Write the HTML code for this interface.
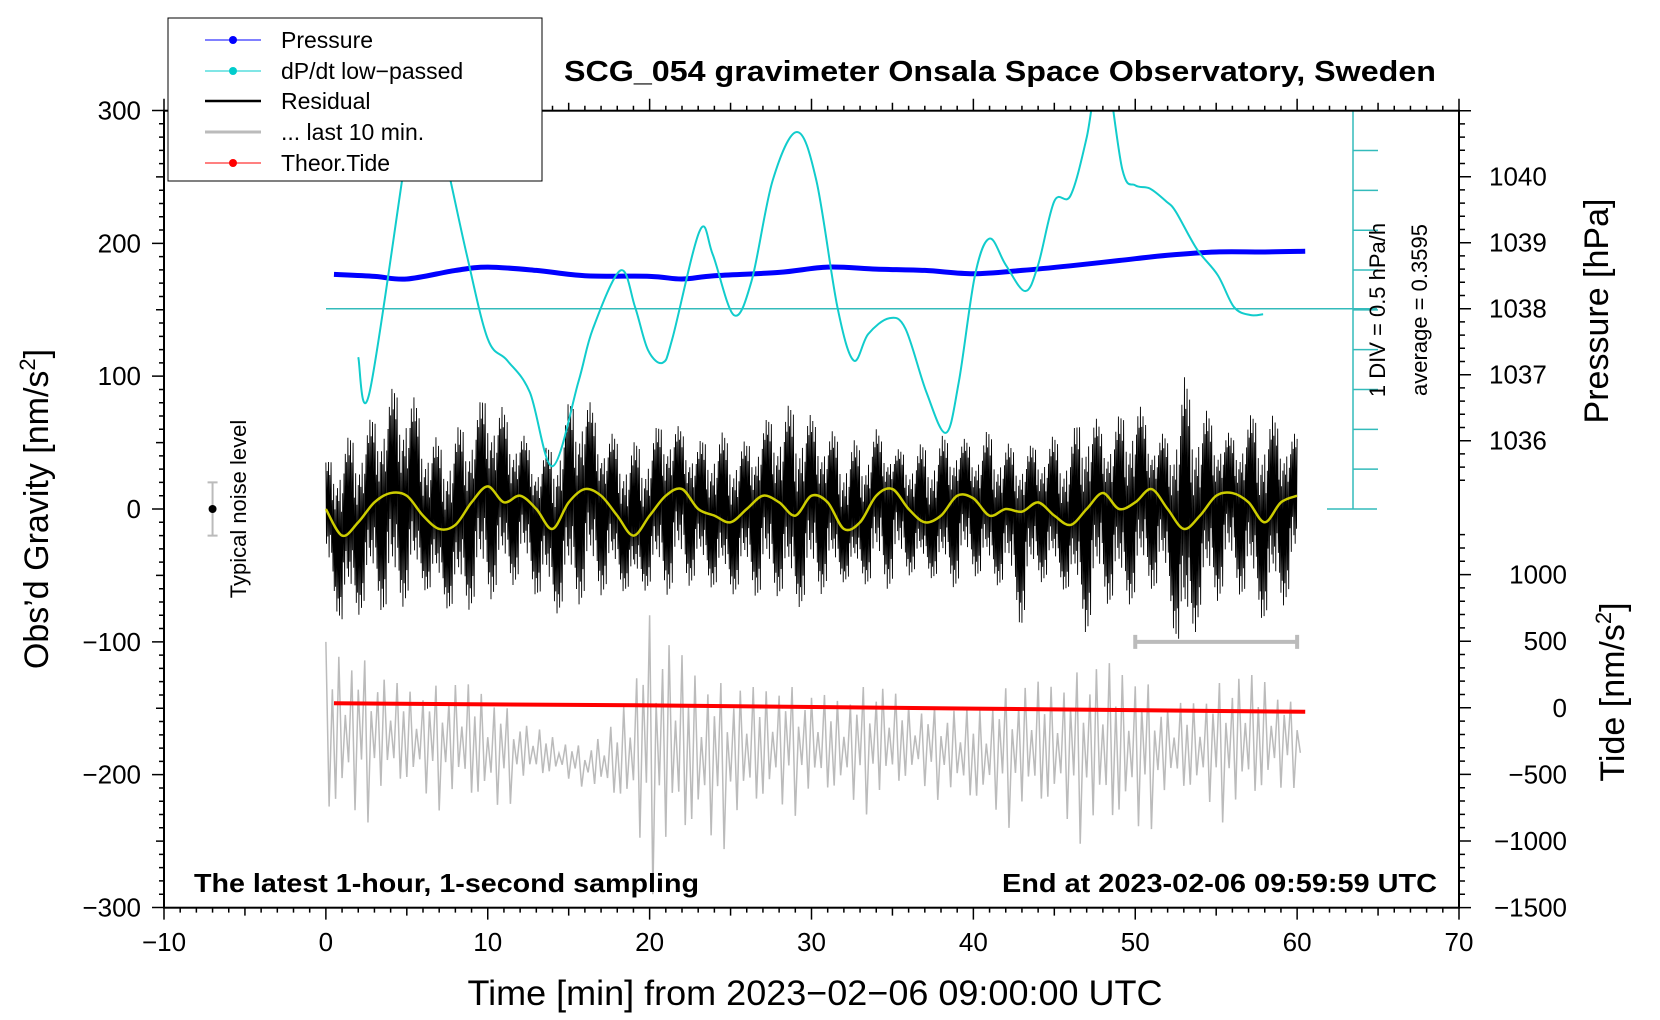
<!DOCTYPE html>
<html><head><meta charset="utf-8"><style>
html,body{margin:0;padding:0;background:#fff;}
svg{display:block;font-family:"Liberation Sans",sans-serif;}
</style></head><body>
<svg id="chart" width="1660" height="1020" viewBox="0 0 1660 1020" xmlns="http://www.w3.org/2000/svg">
<defs><clipPath id="plotclip"><rect x="164" y="110.7" width="1295" height="797"/></clipPath></defs>
<g id="gTicks"></g>
<g id="gData" clip-path="url(#plotclip)"></g>
<rect x="164" y="110.7" width="1295" height="797" fill="none" stroke="#000" stroke-width="2"/>
<g id="gLabels"></g>
<text x="1000" y="81" font-size="29" font-weight="bold" text-anchor="middle" textLength="872" lengthAdjust="spacingAndGlyphs">SCG_054 gravimeter Onsala Space Observatory, Sweden</text>
<text x="194" y="892" font-size="26" font-weight="bold" textLength="505" lengthAdjust="spacingAndGlyphs">The latest 1-hour, 1-second sampling</text>
<text x="1437" y="892" font-size="26" font-weight="bold" text-anchor="end" textLength="435" lengthAdjust="spacingAndGlyphs">End at 2023-02-06 09:59:59 UTC</text>
<text transform="translate(48,509) rotate(-90)" font-size="34" text-anchor="middle">Obs’d Gravity [nm/s<tspan font-size="22" dy="-13">2</tspan><tspan dy="13">]</tspan></text>
<text x="815" y="1005" font-size="35" text-anchor="middle" textLength="695" lengthAdjust="spacingAndGlyphs">Time [min] from 2023−02−06 09:00:00 UTC</text>
<text transform="translate(1608,311) rotate(-90)" font-size="34" text-anchor="middle">Pressure [hPa]</text>
<text transform="translate(1624,692) rotate(-90)" font-size="34" text-anchor="middle">Tide [nm/s<tspan font-size="22" dy="-13">2</tspan><tspan dy="13">]</tspan></text>
<text transform="translate(246,509) rotate(-90)" font-size="22" text-anchor="middle">Typical noise level</text>
<text transform="translate(1385,310) rotate(-90)" font-size="22" text-anchor="middle">1 DIV = 0.5 hPa/h</text>
<text transform="translate(1427,310) rotate(-90)" font-size="22" text-anchor="middle">average = 0.3595</text>
<g>
<rect x="168" y="18" width="374" height="163" fill="#fff" stroke="#000" stroke-width="1"/>
<g><line x1="205" y1="40" x2="261" y2="40" stroke="#00f"/><circle cx="233" cy="40" r="4" fill="#00f"/><text x="281" y="48" font-size="23">Pressure</text></g>
<g><line x1="205" y1="71" x2="261" y2="71" stroke="#0cc"/><circle cx="233" cy="71" r="4" fill="#0cc"/><text x="281" y="79" font-size="23">dP/dt low−passed</text></g>
<g><line x1="205" y1="101" x2="261" y2="101" stroke="#000" stroke-width="2.5"/><text x="281" y="109" font-size="23">Residual</text></g>
<g><line x1="205" y1="132" x2="261" y2="132" stroke="#bbb" stroke-width="3"/><text x="281" y="140" font-size="23">... last 10 min.</text></g>
<g><line x1="205" y1="163" x2="261" y2="163" stroke="#f00"/><circle cx="233" cy="163" r="4" fill="#f00"/><text x="281" y="171" font-size="23">Theor.Tide</text></g>
</g>
</svg>
<script>
const xTicks=[-10,0,10,20,30,40,50,60,70];
const yTicks=[300,200,100,0,-100,-200,-300];
const pTicks=[1040,1039,1038,1037,1036];
const tideTicks=[1000,500,0,-500,-1000,-1500];
const dpT=[2,2.7,5.1,6,7.4,8.7,10,11.2,12.6,14,15.6,16.5,18.2,19.1,19.9,20.8,21.4,23.1,23.9,25.2,26.3,27.6,29.1,30.3,31.6,32.6,33.5,34.8,35.8,37.1,38.3,39.1,40.1,41,42,43.2,44,45,46,47,48,49.2,50,50.9,51.9,52.5,53.8,55.1,56.1,57.1,57.9];
const dpV=[-0.25,-0.69,2.5,3.4,2.24,1.04,-0.02,-0.29,-0.69,-1.62,-0.56,0.11,0.84,0.38,-0.16,-0.32,-0.02,1.34,1.04,0.28,0.71,1.97,2.58,1.97,0.38,-0.29,0.04,0.24,0.11,-0.69,-1.2,-0.56,0.78,1.24,0.91,0.58,0.91,1.71,1.78,2.51,3.53,2.11,1.91,1.87,1.71,1.58,1.11,0.78,0.38,0.28,0.29];
const presT=[0.5,3,5,8,10,13,16,20,22,24,28,31,34,37,40,43,46,49,52,55,58,60.5];
const presV=[1038.52,1038.49,1038.45,1038.58,1038.63,1038.58,1038.50,1038.49,1038.45,1038.50,1038.55,1038.63,1038.60,1038.58,1038.53,1038.58,1038.65,1038.73,1038.81,1038.86,1038.86,1038.87];
const resUpper=[35,50,60,70,90,95,70,50,60,70,90,75,60,40,50,80,90,60,55,50,55,70,60,50,60,55,50,65,75,80,70,60,55,50,60,45,45,50,55,55,50,60,50,45,50,55,55,80,60,70,85,60,55,100,80,65,55,70,75,65,55];
const resLower=[-50,-90,-80,-70,-85,-70,-60,-70,-80,-75,-70,-60,-55,-65,-80,-75,-70,-65,-60,-65,-60,-65,-60,-55,-60,-65,-60,-70,-65,-75,-70,-60,-55,-55,-60,-60,-50,-50,-55,-60,-50,-55,-60,-90,-55,-55,-65,-95,-70,-75,-70,-60,-70,-125,-80,-70,-60,-70,-85,-75,-60];
const smooth=[0,-20,-10,5,12,10,-5,-15,-12,5,17,5,10,0,-15,5,15,10,-5,-20,-5,10,15,0,-5,-10,0,10,5,-5,10,5,-15,-10,10,15,0,-10,-5,10,8,-5,0,-2,5,-5,-12,0,12,0,5,15,0,-15,-5,10,12,5,-10,5,10];
const grayUpper=[-100,-110,-130,-135,-130,-135,-160,-170,-180,-160,-80,-110,-130,-135,-130,-140,-140,-130,-145,-150,-150,-135,-130,-125,-115,-120,-150,-140,-125,-125,-150];
const grayLower=[-255,-240,-220,-225,-230,-240,-210,-205,-210,-230,-290,-270,-260,-240,-235,-225,-230,-230,-215,-220,-235,-240,-240,-250,-260,-255,-220,-230,-240,-230,-205];
const tideT=[0.5,20,40,60.5];
const tideV=[34,18,-6,-30];
const NS='http://www.w3.org/2000/svg';
const X=t=>164+(t+10)*1295/80;
const Y=g=>509-g*797/600;
const YP=p=>308.7-(p-1038)*66;
const YT=v=>707.8-v*0.1332;
const YD=v=>308.7-(v-0.3595)/0.5*39.8;
function mk(tag,attrs,parent){const e=document.createElementNS(NS,tag);for(const k in attrs)e.setAttribute(k,attrs[k]);parent.appendChild(e);return e;}
const gT=document.getElementById('gTicks'),gD=document.getElementById('gData'),gL=document.getElementById('gLabels');
function interp(arr,step,t){const i=Math.min(Math.floor(t/step),arr.length-2);const f=t/step-i;return arr[i]*(1-f)+arr[i+1]*f;}
function catmull(pts){let s='M'+pts[0][0]+' '+pts[0][1];for(let i=0;i<pts.length-1;i++){const p0=pts[Math.max(i-1,0)],p1=pts[i],p2=pts[i+1],p3=pts[Math.min(i+2,pts.length-1)];
s+=`C${p1[0]+(p2[0]-p0[0])/6} ${p1[1]+(p2[1]-p0[1])/6} ${p2[0]-(p3[0]-p1[0])/6} ${p2[1]-(p3[1]-p1[1])/6} ${p2[0]} ${p2[1]}`;}return s;}
// ticks
let d='';
for(let t=-10;t<=70;t++){const big=t%10===0, mid=t%5===0;const L=big?12:(mid?8:5);d+=`M${X(t)} 907.6v${L}M${X(t)} 110.7v${-L}`;}
for(let g=-300;g<=300;g+=10){const L=g%100===0?12:(g%50===0?8:5);d+=`M164 ${Y(g)}h${-L}`;}
for(let p=1035.4;p<=1041.05;p+=0.2){const y=YP(p);if(y<110||y>509)continue;const L=Math.abs(p-Math.round(p))<0.01?12:6;d+=`M1459 ${y}h${L}`;}
for(let v=-1500;v<=1300;v+=100){const y=YT(v);if(y<509||y>908)continue;const L=v%500===0?12:6;d+=`M1459 ${y}h${L}`;}
const tk=mk('path',{d:d,stroke:'#000','stroke-width':1.5,fill:'none'},gT);


xTicks.forEach(t=>{const e=mk('text',{x:X(t),y:951,'font-size':26,'text-anchor':'middle'},gL);e.textContent=String(t).replace('-','−');

});
yTicks.forEach(g=>{const e=mk('text',{x:141,y:Y(g)+9,'font-size':26,'text-anchor':'end'},gL);e.textContent=String(g).replace('-','−');

});
pTicks.forEach(p=>{const e=mk('text',{x:1489,y:YP(p)+9,'font-size':26},gL);e.textContent=p;

});
tideTicks.forEach(v=>{const e=mk('text',{x:1567,y:YT(v)+9,'font-size':26,'text-anchor':'end'},gL);e.textContent=String(v).replace('-','−');

});
// dP/dt axis
let ad=`M1353 110.7V509M1327 110.7h50M1327 509h50M326 308.7H1377`;
for(let i=1;i<10;i++){ad+=`M1353 ${110.7+i*39.83}h25`;}
const dax=mk('path',{d:ad,stroke:'#3bb',fill:'none','stroke-width':1.5},gD);


// gray last 10 min zigzag
let gp='';const per=[1,0.55,0.9,0.3,0.8,0.6,1,0.4,0.7,0.95,0.35];let k=0;
for(let t=0;t<=60;t+=0.4){const u=interp(grayUpper,2,t),l=interp(grayLower,2,t);const c=(u+l)/2,a=(u-l)/2*per[k%11];k++;
gp+=(gp?'L':'M')+X(t)+' '+Y(c+a)+'L'+X(t+0.2)+' '+Y(c-a*per[(k+4)%11]);}
const gr=mk('path',{d:gp,stroke:'#bbb',fill:'none','stroke-width':1.5},gD);


// residual zigzag
let rp='';const rf=[1,0.5,0.8,0.35,0.95,0.6,0.7,0.25,0.9,0.45,0.3,0.65,0.55,0.85,0.2,0.75,0.4];k=0;
for(let t=0;t<=60;t+=0.04){const s=interp(smooth,1,t);const u=interp(resUpper,1,t),l=interp(resLower,1,t);const f=rf[k%17];k++;
const v=(k%2)?s+(u-s)*f:s+(l-s)*f;rp+=(rp?'L':'M')+X(t).toFixed(2)+' '+Y(v).toFixed(1);}
const rs=mk('path',{d:rp,stroke:'#000',fill:'none','stroke-width':0.9},gD);


// smoothed
const sm=mk('path',{d:catmull(smooth.map((v,i)=>[X(i),Y(v)])),stroke:'#cc0',fill:'none','stroke-width':2.5},gD);


// tide
const td=mk('path',{d:tideT.map((t,i)=>(i?'L':'M')+X(t)+' '+YT(tideV[i])).join(''),stroke:'#f00',fill:'none','stroke-width':4},gD);


// pressure
const pr=mk('path',{d:catmull(presT.map((t,i)=>[X(t),YP(presV[i])])),stroke:'#00f',fill:'none','stroke-width':5,'stroke-linejoin':'round'},gD);


// dP/dt
const dc=mk('path',{d:catmull(dpT.map((t,i)=>[X(t),YD(dpV[i])])),stroke:'#1cc',fill:'none','stroke-width':2},gD);


// 10-min bar
const bar=mk('path',{d:`M${X(50)} ${Y(-100)}H${X(60)}M${X(50)} ${Y(-100)-7}v14M${X(60)} ${Y(-100)-7}v14`,stroke:'#bbb','stroke-width':4,fill:'none'},gD);


// noise marker
const nz=mk('path',{d:`M${X(-7)} ${Y(20)}V${Y(-20)}M${X(-7)-5} ${Y(20)}h10M${X(-7)-5} ${Y(-20)}h10`,stroke:'#bbb','stroke-width':2,fill:'none'},gD);


const nd=mk('circle',{cx:X(-7),cy:Y(0),r:4,fill:'#000'},gD);


</script>
</body></html>
